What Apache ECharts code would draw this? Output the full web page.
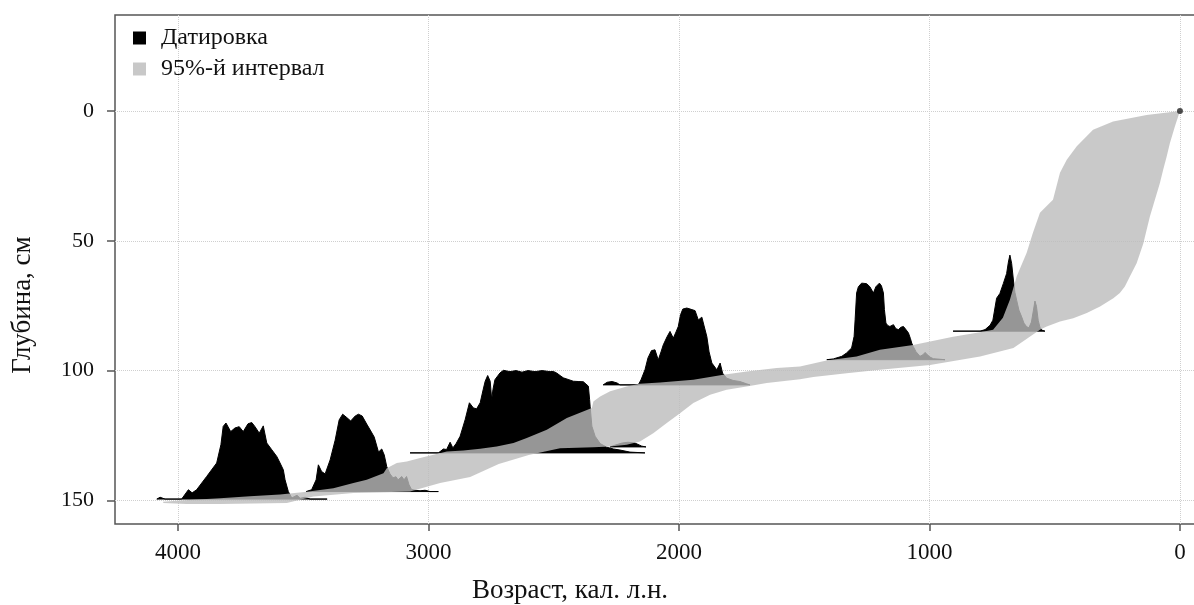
<!DOCTYPE html>
<html>
<head>
<meta charset="utf-8">
<script src="https://cdn.jsdelivr.net/npm/echarts@6/dist/echarts.min.js"></script>
<style>
  html, body { margin: 0; padding: 0; background: #fff; }
  #chart { width: 1194px; height: 605px; }
</style>
</head>
<body>
<div id="chart"></div>
<script>
const xTicks = [0, 1000, 2000, 3000, 4000]
const yTicks = [0, 50, 100, 150]

// depth of every dated level, cm
const dateDepths = [149.5, 146.6, 131.7, 129.4, 105.5, 95.8, 84.8]

// calibrated age distributions: ages (cal BP) and heights drawn above the level (cm)
const d1Age = [4085, 4072, 4052, 3986, 3959, 3944, 3926, 3886, 3846, 3829, 3820, 3809, 3790, 3773, 3756, 3740, 3721, 3706, 3693, 3676, 3660, 3646, 3626, 3606, 3593, 3580, 3573, 3560, 3546, 3537, 3525, 3513, 3493, 3473, 3405]
const d1H = [0, 0.7, 0, 0, 3.6, 2.4, 3.6, 8.7, 13.9, 21, 28, 29.3, 26, 27.4, 27.9, 26, 29, 29.5, 27.9, 25.4, 28.2, 21.6, 19, 16.4, 13.9, 11.3, 7.4, 2.9, 0.4, 0.9, 1.5, 0.3, 0.7, 0, 0]
const d2Age = [3489, 3467, 3449, 3440, 3427, 3413, 3393, 3373, 3357, 3343, 3329, 3311, 3293, 3280, 3265, 3247, 3233, 3217, 3200, 3187, 3177, 3167, 3154, 3142, 3130, 3122, 3107, 3098, 3088, 3078, 3068, 3054, 3034, 3014, 2994, 2961]
const d2H = [0, 0.7, 4.5, 10.3, 7.7, 6.8, 12.2, 19.8, 27.6, 29.8, 28.7, 27.2, 29.1, 29.8, 29.1, 26, 23.7, 21, 15.2, 16.4, 14.1, 9.6, 6.8, 5.3, 5.7, 4.5, 5.8, 4.5, 5.8, 2.6, 0.8, 0.5, 0.3, 0.5, 0, 0]
const d3Age = [3074, 2961, 2954, 2941, 2928, 2914, 2903, 2890, 2874, 2854, 2837, 2821, 2808, 2794, 2782, 2774, 2764, 2754, 2748, 2743, 2735, 2715, 2701, 2675, 2651, 2627, 2603, 2575, 2547, 2515, 2502, 2489, 2475, 2462, 2443, 2422, 2403, 2382, 2362, 2357, 2355, 2348, 2335, 2315, 2289, 2262, 2236, 2196, 2136]
const d3H = [0, 0, 0.5, 1.5, 1.3, 4.1, 1.9, 3.6, 6.4, 12.8, 19.3, 17.3, 17, 19.3, 24.4, 27.6, 29.8, 27.6, 20.5, 24.4, 28.2, 30.8, 31.8, 31.3, 31.7, 31.1, 31.7, 31.3, 31.7, 31.3, 31.4, 30.8, 29.8, 28.9, 28.3, 27.6, 27.5, 27.4, 25.7, 20.5, 18, 10.3, 6.4, 3.6, 2.2, 1.5, 1.1, 0.3, 0]
const d4Age = [2275, 2255, 2227, 2204, 2176, 2149, 2132]
const d4H = [0, 0.7, 1.5, 1.8, 1.5, 0.3, 0]
const d5Age = [2303, 2287, 2267, 2247, 2236, 2163, 2152, 2136, 2124, 2110, 2096, 2083, 2072, 2063, 2048, 2036, 2023, 2012, 2003, 1994, 1985, 1969, 1952, 1936, 1923, 1909, 1900, 1889, 1880, 1869, 1849, 1836, 1826, 1810, 1784, 1757, 1730, 1717]
const d5H = [0, 1, 1.3, 0.7, 0, 0, 1.9, 5.8, 10.4, 13.2, 13.5, 9.6, 12.7, 15.4, 18.5, 20.6, 18, 20.4, 22.5, 27, 29.2, 29.6, 29.1, 28.6, 25, 26.1, 22.7, 18.6, 12.7, 8.4, 5.8, 8.4, 4.5, 2.6, 1.7, 1.3, 0.4, 0]
const d6Age = [1410, 1384, 1350, 1331, 1311, 1301, 1297, 1291, 1284, 1271, 1251, 1238, 1224, 1214, 1200, 1192, 1184, 1180, 1174, 1166, 1158, 1144, 1134, 1124, 1114, 1104, 1094, 1084, 1076, 1071, 1065, 1054, 1038, 1026, 1018, 1006, 998, 985, 938]
const d6H = [0, 0.3, 1.3, 2.6, 4.5, 9, 15.4, 25.7, 28.1, 29.5, 29.3, 28.1, 25.7, 28.1, 29.5, 28.5, 25.7, 19.3, 14.1, 13.1, 12.8, 13.5, 11.9, 11.6, 12.5, 12.8, 11.6, 10.3, 8.1, 6.4, 5.1, 3.1, 1.3, 1.9, 2.8, 1.7, 1, 0.4, 0]
const d7Age = [906, 798, 778, 758, 747, 732, 719, 705, 692, 685, 679, 672, 665, 659, 652, 643, 632, 623, 612, 603, 593, 585, 579, 573, 566, 559, 552, 539]
const d7H = [0, 0, 0.6, 2.3, 4.2, 12.7, 14.5, 18.4, 22.2, 26.6, 29.3, 26.1, 19.7, 15, 11.9, 8.1, 5.5, 3.1, 1.7, 1.3, 3.5, 8.1, 11.6, 9.6, 4.2, 1.5, 0.4, 0]

// surface date
const topDate = [[0, 0]]

// 95% range of the age-depth model: old (left) and young (right) edges
const bandOldAge = [0, 133, 267, 347, 412, 452, 479, 507, 559, 587, 612, 652, 679, 707, 746, 798, 906, 1065, 1198, 1291, 1411, 1517, 1610, 1730, 1823, 1943, 2076, 2156, 2209, 2275, 2315, 2342, 2348, 2448, 2528, 2608, 2661, 2728, 2794, 2861, 2927, 3034, 3087, 3127, 3167, 3180, 3247, 3300, 3380, 3486, 3593, 3713, 3832, 3992, 4060]
const bandOldDepth = [0, 1.5, 4, 7.2, 13.6, 18.8, 23.8, 34.2, 39.2, 46.9, 54.6, 63.7, 72.7, 79.6, 84.3, 85.2, 87, 90.1, 92, 94.6, 96.1, 98.4, 99, 100.3, 101.6, 103.5, 104.6, 105.1, 106.1, 108, 110, 111.9, 114.4, 118.3, 122.8, 126, 127.9, 129.2, 130.1, 130.8, 131.2, 133.7, 135, 135.6, 137.6, 139.5, 142.1, 143.3, 145.3, 146.7, 147.7, 148.4, 149.2, 150, 150.5]
const bandYoungAge = [0, 20, 40, 53, 67, 80, 100, 120, 133, 146, 173, 200, 220, 240, 266, 319, 372, 426, 479, 532, 559, 665, 798, 998, 1198, 1331, 1464, 1517, 1650, 1730, 1810, 1876, 1943, 1996, 2049, 2103, 2156, 2209, 2275, 2342, 2475, 2600, 2720, 2834, 2954, 3074, 3300, 3460, 3566, 3832, 3966, 4059]
const bandYoungDepth = [0, 5.9, 12.3, 17.5, 22.6, 27.7, 34.2, 40.6, 45.7, 50.9, 58.6, 63.7, 67.6, 70.1, 72.1, 75.3, 77.8, 79.8, 81.1, 83, 84.3, 91.3, 94.6, 97.8, 99.7, 101, 102.5, 103.3, 104.8, 106.1, 107.4, 109.3, 112.5, 116.4, 120.2, 124.1, 127.3, 128.6, 129.2, 129.5, 129.9, 132.5, 136, 141, 143.3, 146.6, 147.2, 148.5, 151, 151.4, 151.4, 151]

const dates = [
  [d1Age, d1H], [d2Age, d2H], [d3Age, d3H], [d4Age, d4H],
  [d5Age, d5H], [d6Age, d6H], [d7Age, d7H]
].map(([age, h], i) => ({ depth: dateDepths[i], age, h }))

const font = 'Liberation Serif'
const chart = echarts.init(document.getElementById('chart'))

chart.setOption({
  animation: false,
  backgroundColor: '#fff',
  grid: {
    left: 115, top: 15, right: -8, bottom: 81,
    show: true, borderColor: '#555', borderWidth: 1.5,
    containLabel: false, outerBoundsMode: 'none'
  },
  legend: {
    left: 133, top: 26, orient: 'vertical', padding: 0, itemGap: 7,
    itemWidth: 13, itemHeight: 13, icon: 'rect', selectedMode: false,
    textStyle: { fontFamily: font, fontSize: 24, color: '#111', lineHeight: 24, padding: [0, 0, 0, 10] },
    data: [
      { name: 'Датировка', itemStyle: { color: '#000' } },
      { name: '95%-й интервал', itemStyle: { color: '#c8c8c8' } }
    ]
  },
  xAxis: {
    type: 'value', inverse: true, min: -88, max: 4252,
    name: 'Возраст, кал. л.н.', nameLocation: 'middle', nameGap: 53,
    nameTextStyle: { fontFamily: font, fontSize: 27, color: '#111', padding: [0, 177, 0, 0] },
    axisLine: { show: false, onZero: false },
    axisTick: { length: 7, lineStyle: { color: '#555', width: 1.5 }, customValues: xTicks },
    axisLabel: {
      customValues: xTicks, margin: 17, fontFamily: font, fontSize: 23, color: '#111',
      formatter: v => String(v)
    },
    splitLine: { show: true, lineStyle: { type: 'dotted', color: '#cfcfcf', width: 1 } }
  },
  yAxis: {
    type: 'value', inverse: true, min: -37, max: 159.1,
    name: 'Глубина, см', nameLocation: 'middle', nameGap: 79,
    nameTextStyle: { fontFamily: font, fontSize: 27, color: '#111', padding: [0, 71, 0, 0] },
    axisLine: { show: false, onZero: false },
    axisTick: { length: 8, lineStyle: { color: '#555', width: 1.5 }, customValues: yTicks },
    axisLabel: {
      customValues: yTicks, margin: 21, fontFamily: font, fontSize: 22, color: '#111',
      padding: [6, 0, 0, 0], formatter: v => String(v)
    },
    splitLine: { show: true, lineStyle: { type: 'dotted', color: '#cfcfcf', width: 1 } }
  },
  series: [
    {
      name: 'Датировка',
      type: 'custom',
      silent: true,
      clip: true,
      z: 2,
      itemStyle: { color: '#000' },
      data: dates.map((d, i) => [i]),
      renderItem: (params, api) => {
        const d = dates[api.value(0)]
        const points = d.age.map((a, k) => api.coord([a, d.depth - d.h[k]]))
        return {
          type: 'polygon',
          shape: { points },
          style: { fill: '#000', stroke: '#000', lineWidth: 1 }
        }
      }
    },
    {
      name: '95%-й интервал',
      type: 'custom',
      silent: true,
      clip: true,
      z: 3,
      itemStyle: { color: '#c8c8c8' },
      data: [[0]],
      renderItem: (params, api) => {
        let points = []
        bandOldAge.forEach((a, k) => points.push(api.coord([a, bandOldDepth[k]])))
        for (let k = bandYoungAge.length - 1; k >= 0; k--) {
          points.push(api.coord([bandYoungAge[k], bandYoungDepth[k]]))
        }
        return {
          type: 'polygon',
          shape: { points },
          style: { fill: 'rgba(187,187,187,0.8)' }
        }
      }
    },
    {
      name: 'top',
      type: 'scatter',
      silent: true,
      z: 4,
      symbolSize: 6,
      itemStyle: { color: '#222' },
      data: topDate
    }
  ]
})
</script>
</body>
</html>
